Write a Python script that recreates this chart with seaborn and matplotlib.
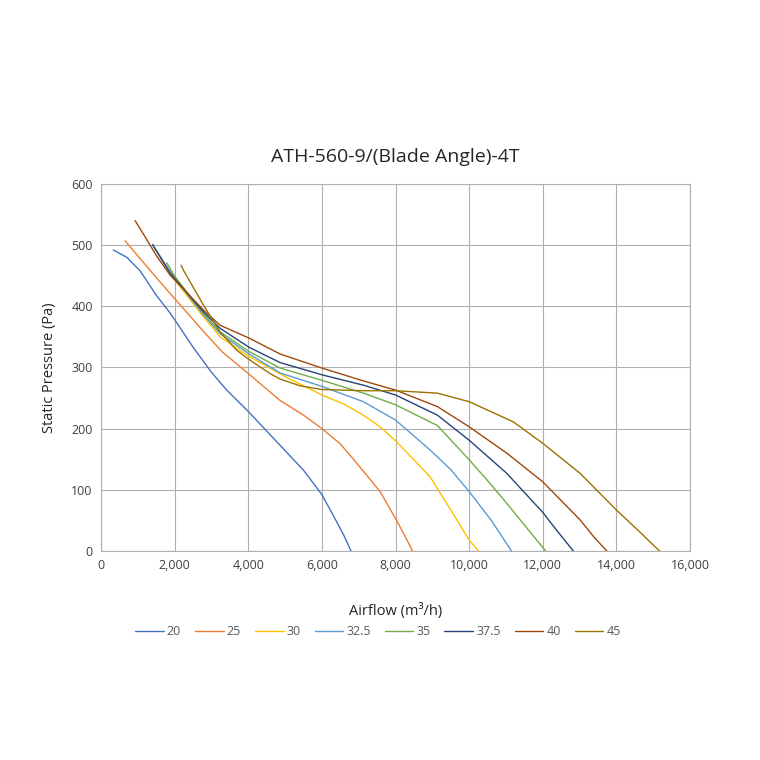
import numpy as np
import pandas as pd
import matplotlib
matplotlib.use("Agg")
import matplotlib.pyplot as plt
import matplotlib.ticker as mticker
import seaborn as sns

# blade angle curves: airflow (m3/h) vs static pressure (Pa)
q_20 = [330, 700, 1060, 1500, 1874, 2000, 2500, 3000, 3414, 4000, 4500, 5030, 5500, 6000, 6380, 6600, 6790]
p_20 = [492, 480, 458, 418, 389, 378, 333, 292, 263, 228, 196, 162, 132, 92, 50, 25, 0]

q_25 = [652, 1060, 1500, 1874, 2300, 2780, 3300, 4000, 4863, 5500, 6000, 6500, 6855, 7200, 7580, 8000, 8250, 8460]
p_25 = [507, 478, 447, 421, 392, 359, 325, 290, 246, 222, 200, 175, 150, 125, 97, 53, 25, 0]

q_30 = [1450, 2000, 2780, 3233, 4020, 5000, 6000, 6600, 7127, 7580, 8000, 8485, 8940, 9500, 10000, 10250]
p_30 = [495, 443, 383, 350, 318, 285, 255, 240, 222, 203, 180, 150, 121, 67, 18, 0]

q_325 = [1400, 2000, 2780, 3233, 4020, 4863, 6000, 7127, 8000, 8940, 9500, 10000, 10600, 11150]
p_325 = [500, 446, 386, 355, 322, 291, 269, 244, 214, 165, 133, 97, 50, 0]

q_35 = [1785, 2000, 2780, 3233, 4020, 4863, 6000, 7127, 8000, 9138, 10000, 10500, 11020, 11600, 12080]
p_35 = [471, 449, 388, 358, 326, 299, 279, 258, 239, 205, 149, 115, 78, 35, 0]

q_375 = [1400, 1874, 2780, 3233, 4020, 4863, 6000, 7127, 8000, 9138, 10000, 11020, 12000, 12400, 12830]
p_375 = [501, 454, 391, 364, 333, 308, 288, 271, 255, 222, 181, 127, 63, 32, 0]

q_40 = [924, 1150, 1500, 1874, 2780, 3233, 4020, 4863, 6000, 7127, 8000, 9138, 10000, 11020, 12000, 13010, 13400, 13740]
p_40 = [540, 518, 483, 451, 394, 369, 348, 322, 299, 278, 263, 236, 203, 160, 113, 51, 22, 0]

q_45 = [2173, 2236, 2780, 3233, 3686, 4020, 4590, 4863, 5406, 6000, 7127, 8000, 9138, 10000, 11200, 12000, 13010, 14000, 14600, 15170]
p_45 = [467, 459, 402, 358, 328, 313, 290, 281, 270, 264, 262, 262, 258, 244, 211, 176, 127, 67, 33, 0]

labels = ["20", "25", "30", "32.5", "35", "37.5", "40", "45"]
flows = [q_20, q_25, q_30, q_325, q_35, q_375, q_40, q_45]
pressures = [p_20, p_25, p_30, p_325, p_35, p_375, p_40, p_45]
colors = ["#4472C4", "#ED7D31", "#FFC000", "#5B9BD5", "#70AD47", "#264478", "#9E480E", "#997300"]

rows = []
for lab, q, p in zip(labels, flows, pressures):
    for i, (a, b) in enumerate(zip(q, p)):
        rows.append({"angle": lab, "order": i, "airflow": a, "pressure": b})
df = pd.DataFrame(rows)

sns.set_style("white")
plt.rcParams["font.family"] = ["Open Sans", "DejaVu Sans"]

fig = plt.figure(figsize=(7.6, 7.6), dpi=100)
ax = fig.add_axes([0.133, 0.275, 0.775, 0.483])

sns.lineplot(data=df, x="airflow", y="pressure", hue="angle", hue_order=labels,
             palette=colors, sort=False, estimator=None, units="angle",
             linewidth=1.0, ax=ax)

ax.set_xlim(0, 16000)
ax.set_ylim(0, 600)
ax.set_xticks(np.arange(0, 16001, 2000))
ax.set_yticks(np.arange(0, 601, 100))
ax.xaxis.set_major_formatter(mticker.FuncFormatter(lambda v, _: f"{int(v):,}"))
ax.grid(True, color="#b0b0b0", linewidth=0.8)
for s in ax.spines.values():
    s.set_color("#b0b0b0")
    s.set_linewidth(0.8)
ax.tick_params(axis="both", length=0, labelsize=9, colors="#404040", pad=6)

ax.set_xlabel("Airflow (m³/h)", fontsize=10.5, color="#262626", labelpad=22)
ax.set_ylabel("Static Pressure (Pa)", fontsize=10.5, color="#262626", labelpad=10)
ax.set_title("ATH-560-9/(Blade Angle)-4T", fontsize=14, color="#262626", pad=16)

handles, _ = ax.get_legend_handles_labels()
leg = ax.legend(handles, labels, loc="upper center", bbox_to_anchor=(0.47, -0.172),
                ncol=8, frameon=False, fontsize=9, handlelength=2.3,
                handletextpad=0.25, columnspacing=1.1)
for t in leg.get_texts():
    t.set_color("#595959")

fig.savefig("out.png", dpi=100)
